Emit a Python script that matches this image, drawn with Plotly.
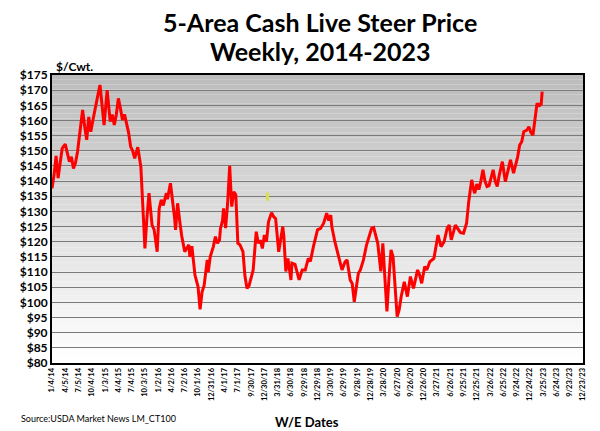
import plotly.graph_objects as go
import pandas as pd

# weekly 5-area cash live steer price
# (week number counted from 1/4/14, price in $/cwt)
weeks = [0, 2, 4, 6, 8, 10, 13, 15, 17, 19, 21, 23, 25, 28, 30, 32, 34, 36, 38, 40,
         43, 45, 47, 49, 51, 54, 57, 59, 61, 63, 65, 67, 69, 71, 73, 75, 77, 79, 81, 84,
         87, 89, 91, 93, 95, 98, 100, 103, 105, 107, 109, 112, 113, 116, 118, 120, 121, 123, 125, 127,
         130, 132, 134, 135, 137, 140, 143, 145, 147, 149, 152, 153, 155, 158, 160, 162, 164, 165, 167, 168,
         170, 172, 174, 176, 178, 180, 182, 184, 187, 189, 191, 193, 195, 197, 200, 202, 204, 206, 208, 210,
         212, 215, 217, 219, 222, 224, 226, 227, 229, 231, 234, 235, 238, 240, 242, 245, 248, 251, 253, 256,
         258, 260, 263, 266, 269, 271, 273, 274, 277, 279, 282, 284, 287, 289, 292, 294, 296, 298, 300, 302,
         305, 308, 310, 313, 315, 317, 319, 322, 324, 326, 328, 330, 332, 334, 336, 338, 340, 342, 345, 348,
         351, 354, 358, 360, 362, 365, 367, 370, 374, 378, 381, 384, 387, 389, 391, 393, 395, 398, 400, 403,
         406, 408, 411, 413, 414, 416, 418, 420, 422, 424, 426, 428, 430, 432, 434, 436, 438, 441, 444, 446,
         449, 452, 454, 456, 458, 460, 462, 465, 467, 469, 471, 473, 475, 477, 478, 479, 480]
prices = [137.6, 142, 148.3, 141, 146, 150.8, 152.2, 149, 146.4, 148, 144.2, 146, 149.7, 158, 163.5, 158, 153.6, 161.2, 156.3, 160,
          165.7, 168.5, 171.7, 166, 158.5, 170, 159.6, 162, 158.5, 162, 167.3, 164, 160.2, 162, 159.1, 156, 151.4, 150, 147.5, 151.2,
          144.8, 133, 117.8, 128, 136, 125.5, 124, 116.7, 131, 133.8, 132, 136, 134, 139.3, 134.3, 128, 123.9, 132.7, 127, 122,
          116.7, 118, 119, 115, 118.5, 109, 105.2, 97.7, 103.5, 105.6, 114, 110, 115.1, 118.4, 121.7, 119.5, 120.5, 124.4, 127, 131,
          124.5, 132.7, 145, 131.6, 136.5, 135.5, 119.5, 119, 116.7, 108.5, 104.6, 105.5, 108, 110.7, 123.3, 119.5, 120.5, 117.8, 122.2, 120,
          126.6, 129.6, 128.3, 127.6, 116.7, 121, 125, 122, 110.2, 114.5, 107.4, 112.9, 112.5, 110, 107.4, 110.7, 110.7, 114.5, 113.5, 118.4,
          121, 123.9, 124.4, 126.1, 129.4, 127, 128.8, 125, 120, 117.3, 113, 110.7, 113.4, 114, 107.4, 106.2, 100.2, 105, 109.6, 110.7,
          114, 118.9, 121, 124.4, 124.7, 122, 119.5, 110.2, 119.5, 108, 97, 108, 117.3, 115, 105, 95.3, 97.6, 102, 106.8, 101.9,
          108.5, 104.6, 110.7, 109, 106.3, 111.8, 110.7, 113.4, 114.5, 122.2, 118.4, 120, 124.5, 125.5, 120.6, 123, 125.5, 124, 123, 122.8,
          126.1, 133, 140.4, 137, 136, 139, 137.2, 140, 143.7, 140, 138.2, 138.5, 141, 143.7, 140, 138.2, 142, 146.4, 139.8, 143,
          147, 142.6, 144.9, 148, 151.9, 153, 156.3, 156.8, 157.9, 156, 155.2, 160, 165.7, 164.6, 165.7, 165, 169.5]

# small yellow mark near 12/30/17
mark_weeks = [211, 211]
mark_prices = [133.5, 136.2]

tick_labels = ['1/4/14', '4/5/14', '7/5/14', '10/4/14', '1/3/15', '4/4/15', '7/4/15', '10/3/15',
               '1/2/16', '4/2/16', '7/2/16', '10/1/16', '12/31/16', '4/1/17', '7/1/17', '9/30/17',
               '12/30/17', '3/31/18', '6/30/18', '9/29/18', '12/29/18', '3/30/19', '6/29/19', '9/28/19',
               '12/28/19', '3/28/20', '6/27/20', '9/26/20', '12/26/20', '3/27/21', '6/26/21', '9/25/21',
               '12/25/21', '3/26/22', '6/25/22', '9/24/22', '12/24/22', '3/25/23', '6/24/23', '9/23/23',
               '12/23/23']

start = pd.Timestamp('2014-01-04')
dates = [start + pd.Timedelta(weeks=w) for w in weeks]
mark_dates = [start + pd.Timedelta(weeks=w) for w in mark_weeks]
tick_vals = pd.to_datetime(tick_labels, format='%m/%d/%y')

fig = go.Figure()

fig.add_trace(go.Scatter(
    x=dates, y=prices, mode='lines',
    line=dict(color='#ff0000', width=3),
    showlegend=False, hoverinfo='x+y'
))

fig.add_trace(go.Scatter(
    x=mark_dates, y=mark_prices, mode='lines',
    line=dict(color='#d9e04a', width=3),
    showlegend=False, hoverinfo='skip'
))

# grey-to-white gradient behind the plot
bands = []
n = 60
for i in range(n):
    t = i / (n - 1)  # 0 bottom, 1 top
    g = int(round(255 - 67 * t))
    bands.append(dict(
        type='rect', xref='paper', yref='paper',
        x0=0, x1=1, y0=i / n, y1=(i + 1) / n,
        fillcolor=f'rgb({g},{g},{g})', line=dict(width=0), layer='below'
    ))

bold = dict(family='Lato', color='black', weight='bold')

# page body has an 8px margin, so figure is 592x423
fig.update_layout(
    width=592, height=423,
    margin=dict(l=40, r=17, t=67, b=68),
    paper_bgcolor='white',
    plot_bgcolor='white',
    font=dict(family='Lato', color='black'),
    shapes=bands,
    xaxis=dict(
        type='date',
        range=[tick_vals[0], tick_vals[-1]],
        tickvals=tick_vals, ticktext=tick_labels,
        tickangle=-90, tickfont=dict(size=7.5, **bold),
        showgrid=False, showline=True, linecolor='black', linewidth=2,
        mirror=True, ticks='', zeroline=False
    ),
    yaxis=dict(
        range=[80, 175], dtick=5, tick0=80, tickprefix='$',
        tickfont=dict(size=12, **bold),
        showgrid=True, gridcolor='#7a7a7a', gridwidth=1,
        showline=True, linecolor='black', linewidth=2, mirror=True,
        ticks='', zeroline=False
    ),
    annotations=[
        dict(text='5-Area Cash Live Steer Price', xref='paper', yref='paper',
             x=0.505, y=1.185, xanchor='center', yanchor='middle', showarrow=False,
             font=dict(size=25, **bold)),
        dict(text='Weekly, 2014-2023', xref='paper', yref='paper',
             x=0.505, y=1.085, xanchor='center', yanchor='middle', showarrow=False,
             font=dict(size=25, **bold)),
        dict(text='$/Cwt.', xref='paper', yref='paper', x=0.004, y=1.028,
             xanchor='left', yanchor='middle', showarrow=False,
             font=dict(size=12, **bold)),
        dict(text='Source:USDA Market News LM_CT100', xref='paper', yref='paper',
             x=-0.062, y=-0.194, xanchor='left', yanchor='middle', showarrow=False,
             font=dict(size=9, family='Lato', color='black')),
        dict(text='W/E Dates', xref='paper', yref='paper', x=0.48, y=-0.205,
             xanchor='center', yanchor='middle', showarrow=False,
             font=dict(size=13, **bold)),
    ]
)

fig.write_html('out.html')
